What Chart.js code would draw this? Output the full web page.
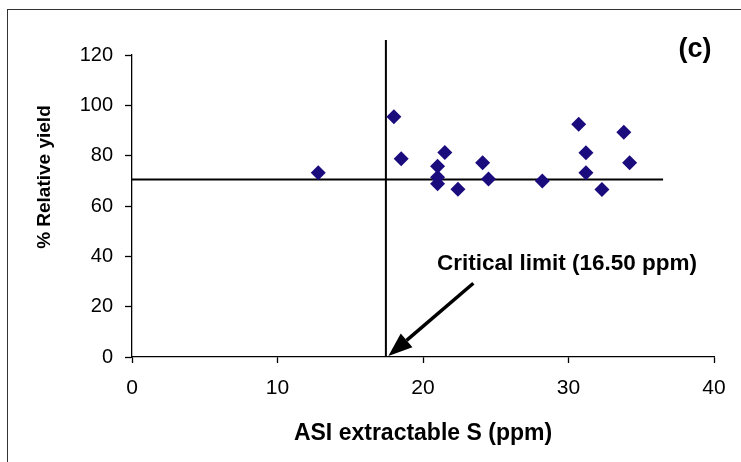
<!DOCTYPE html>
<html lang="en">
<head>
  <meta charset="UTF-8">
  <script src="https://cdn.jsdelivr.net/npm/chart.js"></script>
  <title>Relative yield vs ASI extractable S</title>
  <style>
    body {
      margin: 0;
      background: #fff;
    }

    #wrap {
      position: relative;
      width: 741px;
      height: 462px;
    }

    /* thin frame round the figure, only left and top edges show */
    #frame {
      position: absolute;
      left: 7px;
      top: 9px;
      right: -5px;
      bottom: -5px;
      border: 1px solid #333;
      pointer-events: none;
    }
  </style>
</head>
<body>

  <div id="wrap">
    <canvas id="chart"></canvas>
    <div id="frame"></div>
  </div>

  <script>
    // ASI extractable S (ppm) and % relative yield
    const asiS = [12.8, 18.0, 18.5, 21.5, 21.0, 21.0, 21.0, 22.4, 24.1, 24.5, 28.2, 30.7, 31.2, 31.2, 32.3, 33.8, 34.2];
    const relYield = [73.2, 95.5, 78.8, 81.3, 75.8, 71.4, 68.8, 66.7, 77.2, 70.7, 69.9, 92.5, 81.2, 73.2, 66.6, 89.3, 77.2];

    // critical limit (vertical) and the horizontal split line
    const critX = [17.45, 17.45];
    const critY = [0, 126];
    const splitX = [0, 36.5];
    const splitY = [70.5, 70.5];

    const xTicks = [0, 10, 20, 30, 40];
    const yTicks = [0, 20, 40, 60, 80, 100, 120];

    const font = '"Liberation Sans", Arial, sans-serif';

    function toPoints(xs, ys) {
      return xs.map((v, i) => ({ x: v, y: ys[i] }));
    }

    // arrow and text notes, in data units
    const arrowFrom = [23.46, 29.3];
    const arrowTo = [17.62, 0.4];
    const critLabel = 'Critical limit (16.50 ppm)';
    const critLabelAt = [20.96, 37.0];
    const panelLabel = '(c)';
    const panelLabelAt = [38.7, 122];

    const notes = {
      id: 'notes',
      afterDatasetsDraw(chart) {
        const { ctx, scales: { x, y } } = chart;
        ctx.save();

        // arrow pointing at the critical limit
        const x0 = x.getPixelForValue(arrowFrom[0]);
        const y0 = y.getPixelForValue(arrowFrom[1]);
        const x1 = x.getPixelForValue(arrowTo[0]);
        const y1 = y.getPixelForValue(arrowTo[1]);
        const ang = Math.atan2(y1 - y0, x1 - x0);
        const headLen = 24, headW = 9;
        const bx = x1 - headLen * Math.cos(ang);
        const by = y1 - headLen * Math.sin(ang);
        ctx.strokeStyle = '#000';
        ctx.fillStyle = '#000';
        ctx.lineWidth = 3.5;
        ctx.beginPath();
        ctx.moveTo(x0, y0);
        ctx.lineTo(bx, by);
        ctx.stroke();
        ctx.beginPath();
        ctx.moveTo(x1, y1);
        ctx.lineTo(bx + headW * Math.sin(ang), by - headW * Math.cos(ang));
        ctx.lineTo(bx - headW * Math.sin(ang), by + headW * Math.cos(ang));
        ctx.closePath();
        ctx.fill();

        // texts
        ctx.font = 'bold 22.5px ' + font;
        ctx.textAlign = 'left';
        ctx.textBaseline = 'middle';
        ctx.fillText(critLabel, x.getPixelForValue(critLabelAt[0]), y.getPixelForValue(critLabelAt[1]));

        ctx.font = 'bold 27px ' + font;
        ctx.textAlign = 'center';
        ctx.fillText(panelLabel, x.getPixelForValue(panelLabelAt[0]), y.getPixelForValue(panelLabelAt[1]));

        // y axis title sits a bit above the axis middle
        ctx.font = 'bold 19px ' + font;
        ctx.translate(45, y.getPixelForValue(71.5));
        ctx.rotate(-Math.PI / 2);
        ctx.fillText('% Relative yield', 0, 0);

        ctx.restore();
      }
    };

    new Chart(document.getElementById('chart'), {
      type: 'scatter',
      data: {
        datasets: [
          {
            label: 'Relative yield',
            data: toPoints(asiS, relYield),
            pointStyle: 'rectRot',
            pointRadius: 7.5,
            pointHoverRadius: 7.5,
            backgroundColor: '#1b0c7e',
            borderColor: '#1b0c7e',
            borderWidth: 0
          },
          {
            label: 'Critical limit',
            data: toPoints(critX, critY),
            showLine: true,
            borderColor: '#000',
            borderWidth: 2,
            pointRadius: 0,
            clip: false
          },
          {
            label: 'Split',
            data: toPoints(splitX, splitY),
            showLine: true,
            borderColor: '#000',
            borderWidth: 2,
            pointRadius: 0,
            clip: false
          }
        ]
      },
      options: {
        responsive: true,
        maintainAspectRatio: false,
        animation: false,
        layout: {
          padding: { top: 55, right: 27, left: 0, bottom: 0 }
        },
        plugins: {
          legend: { display: false },
          tooltip: { enabled: false }
        },
        scales: {
          x: {
            type: 'linear',
            min: 0,
            max: 40,
            afterFit(scale) { scale.height = 105; },
            afterBuildTicks(scale) { scale.ticks = xTicks.map(v => ({ value: v })); },
            border: { color: '#000', width: 1.3 },
            grid: { drawOnChartArea: false, color: '#000', tickLength: 6, tickWidth: 1.3 },
            ticks: {
              color: '#000',
              padding: 13,
              font: { family: font, size: 21 }
            },
            title: {
              display: true,
              text: 'ASI extractable S (ppm)',
              color: '#000',
              font: { family: font, size: 23, weight: 'bold' },
              padding: { top: 0, bottom: 15 }
            }
          },
          y: {
            type: 'linear',
            min: 0,
            max: 120,
            afterFit(scale) { scale.width = 132; },
            afterBuildTicks(scale) { scale.ticks = yTicks.map(v => ({ value: v })); },
            border: { color: '#000', width: 1.3 },
            grid: { drawOnChartArea: false, color: '#000', tickLength: 7, tickWidth: 1.3 },
            ticks: {
              color: '#000',
              padding: 12,
              font: { family: font, size: 20 }
            }
          }
        }
      },
      plugins: [notes]
    });
  </script>

</body>
</html>
